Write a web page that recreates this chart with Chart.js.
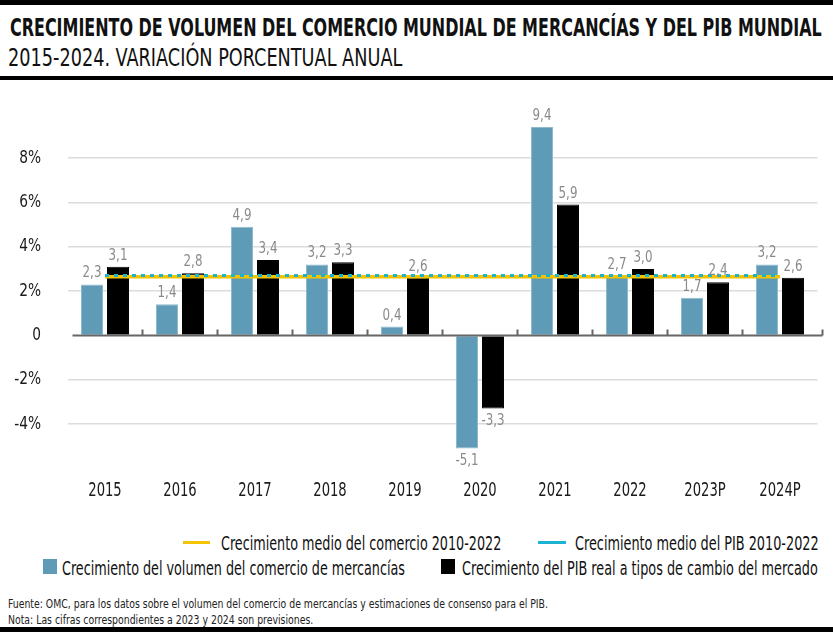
<!DOCTYPE html>
<html>
<head>
<meta charset="utf-8">
<script src="https://cdn.jsdelivr.net/npm/chart.js@4.4.0/dist/chart.umd.min.js"></script>
<style>
  body { margin: 0; background: #fff; }
  #wrap { position: relative; width: 833px; height: 632px; overflow: hidden; background: #fff;
          font-family: "Liberation Sans Narrow", "DejaVu Sans Condensed", sans-serif; color: #111; }
  .rule { position: absolute; left: 0; width: 833px; background: #000; }
  .txt { position: absolute; white-space: nowrap; transform-origin: left center; display: inline-block; line-height: 1; }
  #title { left: 10px; top: 16px; font-size: 24px; font-weight: bold; }
  #subtitle { left: 8px; top: 45px; font-size: 25px; }
  .leg { font-size: 20px; color: #111; }
  .lline { position: absolute; height: 3px; }
  .lbox { position: absolute; width: 14px; height: 15px; }
  .foot { font-size: 13px; color: #222; }
  canvas { position: absolute; left: 0; top: 88px; }
</style>
</head>
<body>
<div id="wrap">
  <div class="rule" style="top:0;height:5px"></div>
  <span class="txt" id="title">CRECIMIENTO DE VOLUMEN DEL COMERCIO MUNDIAL DE MERCANCÍAS Y DEL PIB MUNDIAL</span>
  <span class="txt" id="subtitle">2015-2024. VARIACIÓN PORCENTUAL ANUAL</span>
  <div class="rule" style="top:76px;height:4px"></div>

  <canvas id="myChart" width="833" height="430"></canvas>

  <div class="lline" style="left:183px;top:541px;width:27px;background:#f5c400"></div>
  <span class="txt leg" id="leg1" style="left:221px;top:533px">Crecimiento medio del comercio 2010-2022</span>
  <div class="lline" style="left:538px;top:541px;width:28px;background:#1bb3d1"></div>
  <span class="txt leg" id="leg2" style="left:575px;top:533px">Crecimiento medio del PIB 2010-2022</span>
  <div class="lbox" style="left:43px;top:559px;background:#5f9ab6"></div>
  <span class="txt leg" id="leg3" style="left:62px;top:558px">Crecimiento del volumen del comercio de mercancías</span>
  <div class="lbox" style="left:441px;top:559px;background:#000"></div>
  <span class="txt leg" id="leg4" style="left:462px;top:558px">Crecimiento del PIB real a tipos de cambio del mercado</span>

  <span class="txt foot" id="foot1" style="left:8px;top:597px">Fuente: OMC, para los datos sobre el volumen del comercio de mercancías y estimaciones de consenso para el PIB.</span>
  <span class="txt foot" id="foot2" style="left:8px;top:613px">Nota: Las cifras correspondientes a 2023 y 2024 son previsiones.</span>
  <div class="rule" style="top:627px;height:5px"></div>
</div>

<script>
const years = ['2015', '2016', '2017', '2018', '2019', '2020', '2021', '2022', '2023P', '2024P'];
const tradeGrowth = [2.3, 1.4, 4.9, 3.2, 0.4, -5.1, 9.4, 2.7, 1.7, 3.2];
const gdpGrowth = [3.1, 2.8, 3.4, 3.3, 2.6, -3.3, 5.9, 3.0, 2.4, 2.6];
const avgTrade = [2.65, 2.65, 2.65, 2.65, 2.65, 2.65, 2.65, 2.65, 2.65, 2.65];
const avgGdp = [2.7, 2.7, 2.7, 2.7, 2.7, 2.7, 2.7, 2.7, 2.7, 2.7];
const yTicks = [-4, -2, 0, 2, 4, 6, 8];

const FONT = '"Liberation Sans Narrow", "DejaVu Sans Condensed", sans-serif';

// squeeze html texts to the widths of the original
function fit(id, w) {
    const el = document.getElementById(id);
    el.style.transform = 'scaleX(' + (w / el.offsetWidth) + ')';
}
fit('title', 812);
fit('subtitle', 394);
fit('leg1', 280);
fit('leg2', 244);
fit('leg3', 343);
fit('leg4', 356);
fit('foot1', 540);
fit('foot2', 305);

// canvas text, narrowed like a condensed face
function narrowText(ctx, txt, x, y, align, sx) {
    ctx.save();
    ctx.translate(x, y);
    ctx.scale(sx, 1);
    ctx.textAlign = align;
    ctx.fillText(txt, 0, 0);
    ctx.restore();
}

// numbers over / under the bars
const barLabels = {
    id: 'barLabels',
    afterDatasetsDraw(chart) {
        const ctx = chart.ctx;
        ctx.save();
        ctx.font = '16.5px ' + FONT;
        ctx.fillStyle = '#8a8a8a';
        [0, 1].forEach(function (di) {
            const meta = chart.getDatasetMeta(di);
            const values = chart.data.datasets[di].data;
            meta.data.forEach(function (bar, i) {
                const v = values[i];
                const txt = v.toFixed(1).replace('.', ',');
                if (v >= 0) {
                    ctx.textBaseline = 'bottom';
                    narrowText(ctx, txt, bar.x, bar.y - 3, 'center', 0.8);
                } else {
                    ctx.textBaseline = 'top';
                    narrowText(ctx, txt, bar.x, bar.y + 4, 'center', 0.8);
                }
            });
        });
        ctx.restore();
    }
};

// axis labels drawn again, narrowed (the library's own are left transparent)
const axisLabels = {
    id: 'axisLabels',
    afterDraw(chart) {
        const ctx = chart.ctx;
        const sx = chart.scales.x;
        const sy = chart.scales.y;
        ctx.save();
        ctx.fillStyle = '#1a1a1a';
        ctx.textBaseline = 'middle';
        ctx.font = '19px ' + FONT;
        sx.ticks.forEach(function (t, i) {
            narrowText(ctx, t.label, sx.getPixelForTick(i), 403, 'center', 0.77);
        });
        ctx.font = '18px ' + FONT;
        sy.ticks.forEach(function (t, i) {
            narrowText(ctx, t.label, 41, sy.getPixelForTick(i), 'right', 0.85);
        });
        ctx.restore();
    }
};

// zero axis with small ticks between the years
const zeroAxis = {
    id: 'zeroAxis',
    afterDatasetsDraw(chart) {
        const ctx = chart.ctx;
        const x = chart.scales.x;
        const y0 = chart.scales.y.getPixelForValue(0);
        const a = chart.chartArea;
        ctx.save();
        ctx.strokeStyle = '#666';
        ctx.lineWidth = 2;
        ctx.beginPath();
        ctx.moveTo(a.left + 5, y0);
        ctx.lineTo(a.right + 5, y0);
        for (let i = 1; i <= years.length; i++) {
            const px = i < years.length
                ? (x.getPixelForValue(i - 1) + x.getPixelForValue(i)) / 2
                : a.right + 5;
            ctx.moveTo(px, y0);
            ctx.lineTo(px, y0 - 6);
        }
        ctx.stroke();
        ctx.restore();
    }
};

const ctx = document.getElementById('myChart').getContext('2d');
const myChart = new Chart(ctx, {
    data: {
        labels: years,
        datasets: [{
                type: 'bar',
                label: 'Crecimiento del volumen del comercio de mercancías',
                data: tradeGrowth,
                backgroundColor: '#5f9ab6',
                borderColor: '#8dbacd',
                borderWidth: 1,
                order: 2
            }, {
                type: 'bar',
                label: 'Crecimiento del PIB real a tipos de cambio del mercado',
                data: gdpGrowth,
                backgroundColor: '#000',
                borderColor: '#000',
                borderWidth: 1,
                order: 2
            }, {
                type: 'line',
                label: 'Crecimiento medio del comercio 2010-2022',
                data: avgTrade,
                borderColor: '#f5c400',
                borderWidth: 3.5,
                pointRadius: 0,
                order: 1
            }, {
                type: 'line',
                label: 'Crecimiento medio del PIB 2010-2022',
                data: avgGdp,
                borderColor: '#1bb3d1',
                borderWidth: 3,
                borderDash: [4, 5],
                pointRadius: 0,
                order: 0
            }]
    },
    options: {
        responsive: false,
        animation: false,
        layout: {
            padding: { top: 30.3, bottom: 5.7, left: 0, right: 15.5 }
        },
        categoryPercentage: 0.693,
        barPercentage: 0.846,
        plugins: {
            legend: { display: false },
            tooltip: { enabled: false }
        },
        scales: {
            x: {
                grid: { display: false, drawTicks: false },
                border: { display: false },
                ticks: {
                    color: 'rgba(0,0,0,0)',
                    padding: 24,
                    font: { family: FONT, size: 19 }
                },
                afterFit: function (s) { s.height = 55; }
            },
            y: {
                min: -5.5,
                max: 9.5,
                afterBuildTicks: function (s) {
                    s.ticks = yTicks.map(function (v) { return { value: v }; });
                },
                afterFit: function (s) { s.width = 67.5; },
                grid: {
                    drawTicks: false,
                    color: function (c) { return c.tick && c.tick.value === 0 ? 'rgba(0,0,0,0)' : '#dcdcdc'; },
                    lineWidth: 1.5
                },
                border: { display: false },
                ticks: {
                    color: 'rgba(0,0,0,0)',
                    padding: 26,
                    font: { family: FONT, size: 18 },
                    callback: function (v) { return v === 0 ? '0' : v + '%'; }
                }
            }
        }
    },
    plugins: [zeroAxis, barLabels, axisLabels]
});
</script>
</body>
</html>
